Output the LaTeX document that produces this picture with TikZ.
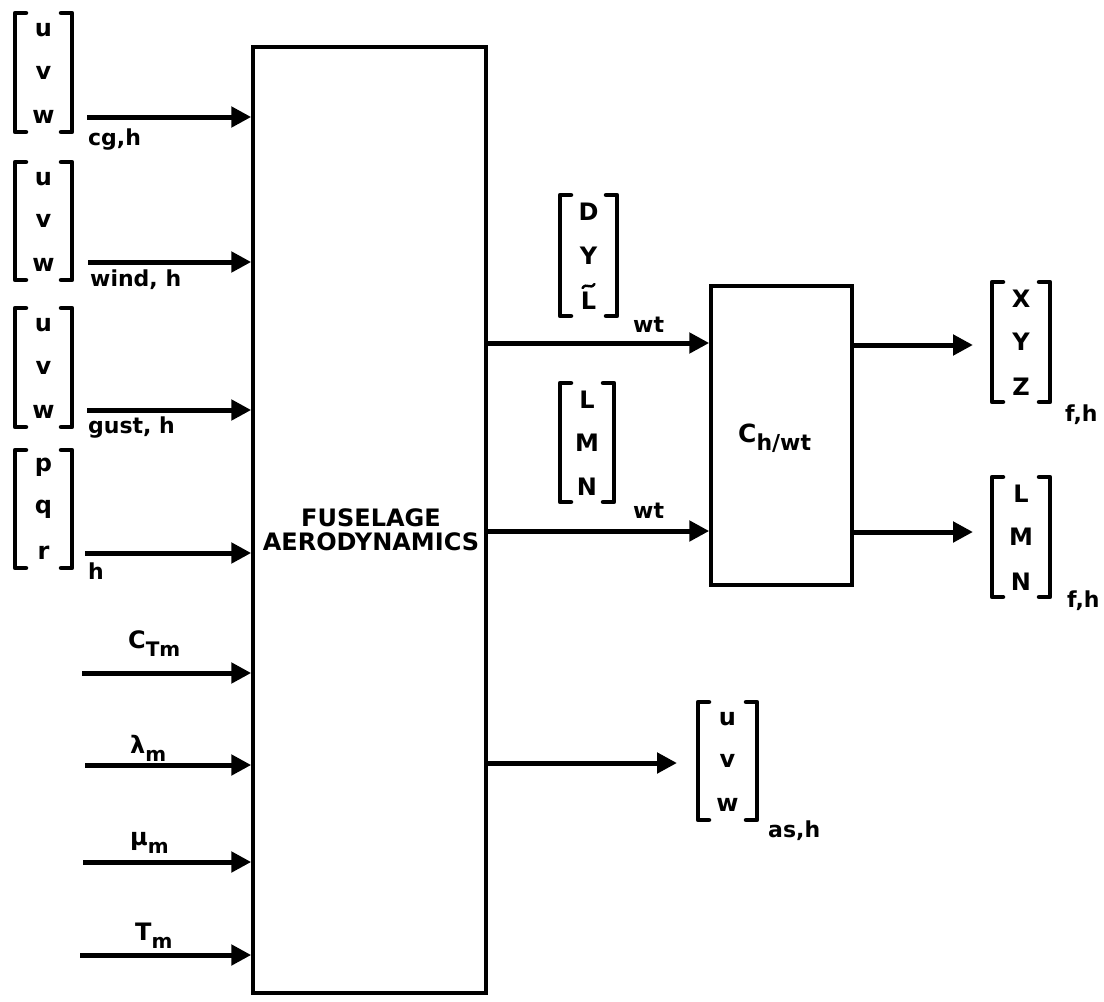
\documentclass[tikz,border=0pt]{standalone}
\usepackage{fontspec}
\setmainfont{DejaVu Sans}
\usetikzlibrary{arrows.meta,positioning}

\tikzset{
  blk/.style={draw,line width=3.5pt,inner sep=0pt},
  sig/.style={line width=5pt,-{Triangle[length=20pt,width=20pt]}},
  ent/.style={font=\fontsize{24}{24}\selectfont\bfseries,inner sep=0pt},
  sbl/.style={font=\fontsize{22}{22}\selectfont\bfseries,anchor=west,inner sep=0pt},
  brk/.style={line width=4.5pt,line cap=round,line join=round},
}
\newcommand{\sbs}[1]{\raisebox{-8pt}{\fontsize{20}{20}\selectfont #1}}
% bracketed column: name, x left, x right, y top, y bottom, three entries
\newcommand{\bvec}[8]{%
  \draw[brk] (#2+11,#4) -- (#2,#4) -- (#2,#5) -- (#2+11,#5);
  \draw[brk] (#3-11,#4) -- (#3,#4) -- (#3,#5) -- (#3-11,#5);
  \node[ent] (#1-1) at ({(#2+#3)/2},#4+17) {#6};
  \node[ent] (#1-2) at ({(#2+#3)/2},{(#4+#5)/2}) {#7};
  \node[ent] (#1-3) at ({(#2+#3)/2},#5-15) {#8};}

\begin{document}
\begin{tikzpicture}[x=1pt,y=-1pt]
\useasboundingbox (0,0) rectangle (1104,1002);
% blocks
\node[blk,minimum width=233pt,minimum height=946pt] (fus) at (369.5,520) {};
\node[font=\fontsize{24}{24}\selectfont\bfseries,align=center] (fuslbl) at (371,530) {FUSELAGE\\AERODYNAMICS};
\node[blk,minimum width=141pt,minimum height=299pt] (conv) at (781.5,435.5) {};
\node[font=\fontsize{25}{25}\selectfont\bfseries,anchor=west,inner sep=0pt] (convlbl) at (738,438) {C\sbs{\fontsize{22}{22}\selectfont h/wt}};

% input vectors
\bvec{vcg}{15}{72}{13}{132}{u}{v}{w}
\bvec{vwind}{15}{72}{162}{280}{u}{v}{w}
\bvec{vgust}{15}{72}{308}{427}{u}{v}{w}
\bvec{vrate}{15}{72}{450}{568}{p}{q}{r}
% output vectors
\bvec{vfwt}{560}{617}{195}{316}{D}{Y}{L}
\draw[line width=2.5pt,line cap=round] ([shift={(-6pt,4pt)}]vfwt-3.north)
  .. controls +(4pt,6pt) and +(-4pt,-6pt) .. ([shift={(6pt,8pt)}]vfwt-3.north);
\bvec{vmwt}{560}{614}{383}{502}{L}{M}{N}
\bvec{vfh}{992}{1050}{282}{402}{X}{Y}{Z}
\bvec{vmh}{992}{1050}{477}{597}{L}{M}{N}
\bvec{vas}{698}{757}{702}{820}{u}{v}{w}

% inputs
\foreach \y/\x [count=\i] in {117/87,262/88,410/87,553/85,673/82,765/85,862/83,955/80}{
  \coordinate (in\i) at (\x,\y);
  \draw[sig] (in\i) -- (fus.west |- in\i);
}
\node[sbl] (lcg) at (88,140) {cg,h};
\node[sbl] (lwind) at (90,280) {wind, h};
\node[sbl] (lgust) at (88,428) {gust, h};
\node[sbl] (lrate) at (88,571) {h};
\node[ent,anchor=base west] (lct) at (128,648) {C\sbs{Tm}};
\node[ent,anchor=base west] (llam) at (130,753) {λ\sbs{m}};
\node[ent,anchor=base west] (lmu) at (130,845) {μ\sbs{m}};
\node[ent,anchor=base west] (ltm) at (135,940) {T\sbs{m}};

% outputs
\coordinate (o1) at (600,343);
\coordinate (o2) at (600,531);
\coordinate (o3) at (677,763);
\coordinate (o4) at (973,345);
\coordinate (o5) at (973,532);
\draw[sig] (fus.east |- o1) -- (conv.west |- o1);
\draw[sig] (fus.east |- o2) -- (conv.west |- o2);
\draw[sig] (fus.east |- o3) -- (o3);
\draw[sig] (conv.east |- o4) -- (o4);
\draw[sig] (conv.east |- o5) -- (o5);
\node[sbl] (lfwt) at (633,325) {wt};
\node[sbl] (lmwt) at (633,511) {wt};
\node[sbl] (lfh) at (1065,415) {f,h};
\node[sbl] (lmh) at (1067,601) {f,h};
\node[sbl] (las) at (768,831) {as,h};
\end{tikzpicture}
\end{document}
